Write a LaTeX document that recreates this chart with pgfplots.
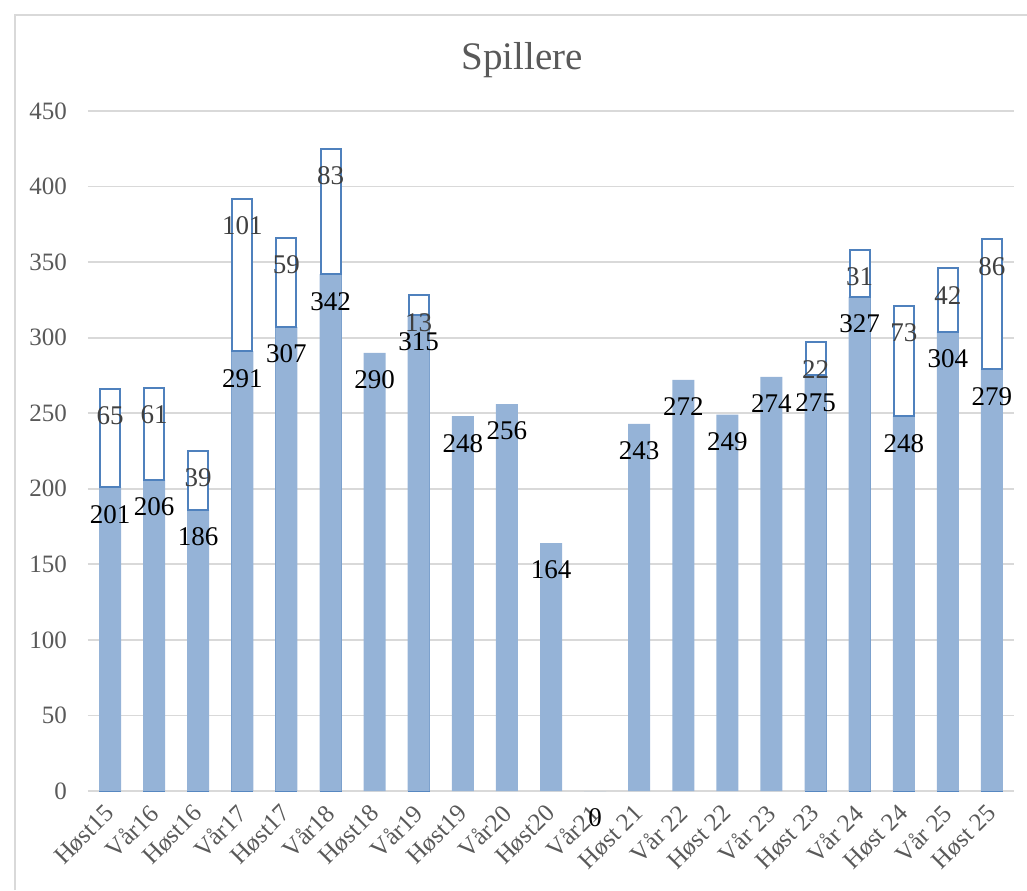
\documentclass[border=0pt]{standalone}
\usepackage{pgfplots}
\usepackage{pgfplotstable}
\pgfplotsset{compat=1.18}
\usepackage{fontspec}
\setmainfont{Liberation Serif}
\definecolor{barblue}{HTML}{95B3D7}
\definecolor{edgeblue}{HTML}{4F81BD}
\definecolor{gridgray}{HTML}{D9D9D9}
\definecolor{tickgray}{HTML}{595959}
\definecolor{labgray}{HTML}{404040}
\pgfplotstableread{
x v
0 201
1 206
2 186
3 291
4 307
5 342
6 290
7 315
8 248
9 256
10 164
11 0
12 243
13 272
14 249
15 274
16 275
17 327
18 248
19 304
20 279
}\bottomdata
\pgfplotstableread{
x b total top
0 201 266 65
1 206 267 61
2 186 225 39
3 291 392 101
4 307 366 59
5 342 425 83
7 315 328 13
16 275 297 22
17 327 358 31
18 248 321 73
19 304 346 42
20 279 365 86
}\boxdata
\begin{document}
\begin{tikzpicture}
\path[use as bounding box] (-44pt,-49.5pt) rectangle (469.5pt,395.5pt);
\draw[gridgray, line width=1pt] (-36.5pt,-49.5pt) -- (-36.5pt,388pt) -- (469.5pt,388pt);
\begin{axis}[
  at={(0,0)}, anchor=south west,
  scale only axis, width=463pt, height=340pt,
  xmin=-0.5, xmax=20.5, ymin=0, ymax=450,
  ytick={0,50,...,450},
  xtick={0,...,20},
  xticklabels={Høst15,Vår16,Høst16,Vår17,Høst17,Vår18,Høst18,Vår19,Høst19,Vår20,Høst20,Vår21,Høst 21,Vår 22,Høst 22,Vår 23,Høst 23,Vår 24,Høst 24,Vår 25,Høst 25},
  axis line style={draw=none},
  major tick length=0pt,
  ymajorgrids, grid style={gridgray, line width=0.9pt},
  /pgf/number format/assume math mode=true,
  yticklabel style={font=\fontsize{12.5}{14}\selectfont, text=tickgray, xshift=-7pt},
  xticklabel style={font=\fontsize{12.5}{14}\selectfont, text=tickgray, rotate=45, anchor=east, inner sep=0pt},
  xticklabel shift=9pt,
  clip=false,
]
% boxes (total height), white with blue outline
\addplot[ybar, bar width=10pt, bar shift=0pt, fill=white, draw=edgeblue, line width=1pt]
  table[x=x, y=total] {\boxdata};
% filled bottom bars with labels
\addplot[ybar, bar width=11pt, bar shift=0pt, fill=barblue, draw=none,
  nodes near coords, point meta=explicit symbolic,
  every node near coord/.append style={anchor=center, yshift=-13.5pt, text=black, font=\fontsize{13.5}{15}\selectfont}]
  table[x=x, y=v, meta=v] {\bottomdata};
% junction line between segments
\addplot[sharp plot, only marks, mark=-, mark size=5.5pt, mark options={draw=edgeblue, line width=1pt}]
  table[x=x, y=b] {\boxdata};
% labels of top segments
\addplot[ybar, bar width=11pt, bar shift=0pt, fill=none, draw=none,
  nodes near coords, point meta=explicit symbolic,
  every node near coord/.append style={anchor=center, yshift=-13.5pt, text=labgray, font=\fontsize{13.5}{15}\selectfont}]
  table[x=x, y=total, meta=top] {\boxdata};
\end{axis}
\node[text=tickgray, font=\fontsize{19.5}{22}\selectfont] at (217pt,365.5pt) {Spillere};
\end{tikzpicture}
\end{document}
